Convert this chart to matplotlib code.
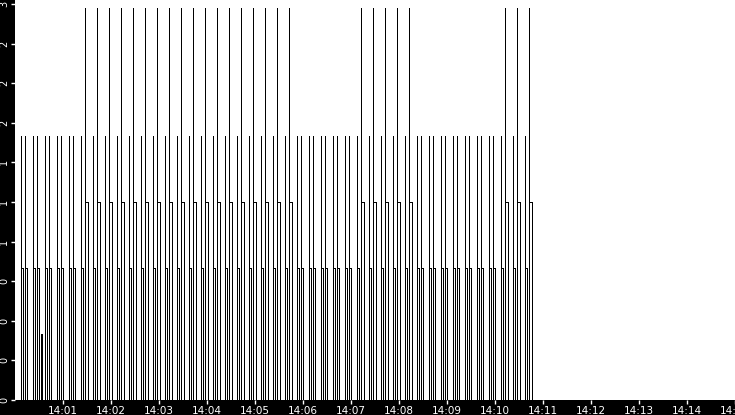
import datetime as dt
import matplotlib
matplotlib.use("Agg")
import matplotlib.pyplot as plt
import matplotlib.dates as mdates
from matplotlib.ticker import FormatStrFormatter

# start of the window, seconds below are counted from here
start = dt.datetime(2022, 11, 16, 14, 0, 0)
end = dt.datetime(2022, 11, 16, 14, 15, 0)

# first kind of pulse, always peaks at 2
pulse_a_sec = [7, 22, 37, 52, 67, 82, 97, 112, 127, 142, 157, 172, 187, 202, 217,
               232, 247, 262, 277, 292, 307, 322, 337, 352, 367, 382, 397, 412,
               427, 442, 457, 472, 487, 502, 517, 532, 547, 562, 577, 592, 607,
               622, 637]
pulse_a_peak = [2] * len(pulse_a_sec)

# second kind of pulse, peaks at 2 or ~3
pulse_b_sec = [13, 28, 43, 58, 73, 88, 103, 118, 133, 148, 163, 178, 193, 208, 223,
               238, 253, 268, 283, 298, 313, 328, 343, 358, 373, 388, 403, 418,
               433, 448, 463, 478, 493, 508, 523, 538, 553, 568, 583, 598, 613,
               628, 643]
pulse_b_peak = [2, 2, 2, 2, 2,
                2.97, 2.97, 2.97, 2.97, 2.97, 2.97, 2.97, 2.97, 2.97, 2.97,
                2.97, 2.97, 2.97, 2.97, 2.97, 2.97, 2.97, 2.97,
                2, 2, 2, 2, 2,
                2.97, 2.97, 2.97, 2.97, 2.97,
                2, 2, 2, 2, 2, 2, 2,
                2.97, 2.97, 2.97]

# small blip near the start
blip_sec = [32, 33]
blip_peak = [0.5, 0.5]

yticks = [0, 0.3, 0.6, 0.9, 1.2, 1.5, 1.8, 2.1, 2.4, 2.7, 3.0]

# level the signal settles on after the spike, and how long it stays there (s)
base_of = {2: 1.0, 2.97: 1.5, 0.5: 0.5}
hold_of = {2: 2.5, 2.97: 3.4, 0.5: 1.2}

events = sorted(zip(pulse_a_sec + pulse_b_sec + blip_sec,
                    pulse_a_peak + pulse_b_peak + blip_peak))
xs = []
ys = []
for t, p in events:
    b = base_of[p]
    w = hold_of[p]
    xs += [t, t, t, t + w, t + w]
    ys += [0, p, b, b, 0]
times = [start + dt.timedelta(seconds=s) for s in xs]

W, H = 735, 415
fig = plt.figure(figsize=(W / 100, H / 100), dpi=100, facecolor="black")
ax = fig.add_axes([15 / W, 15 / H, 720 / W, 400 / H])
ax.set_facecolor("white")

ax.plot(times, ys, color="black", lw=0.72, antialiased=False)

ax.set_xlim(start, end)
ax.set_ylim(0, 3.03)
for s in ax.spines.values():
    s.set_visible(False)

ax.set_xticks([start + dt.timedelta(minutes=m) for m in range(1, 16)])
ax.xaxis.set_major_formatter(mdates.DateFormatter("%H:%M"))
ax.set_yticks(yticks)
ax.yaxis.set_major_formatter(FormatStrFormatter("%d"))

ax.tick_params(axis="x", colors="white", labelsize=7.5, length=3, width=1, pad=1)
ax.tick_params(axis="y", colors="white", labelsize=7, length=3, width=1, pad=1,
               labelrotation=90)
for lab in ax.get_yticklabels():
    lab.set_va("center")

fig.savefig("out.png", dpi=100, facecolor="black")
